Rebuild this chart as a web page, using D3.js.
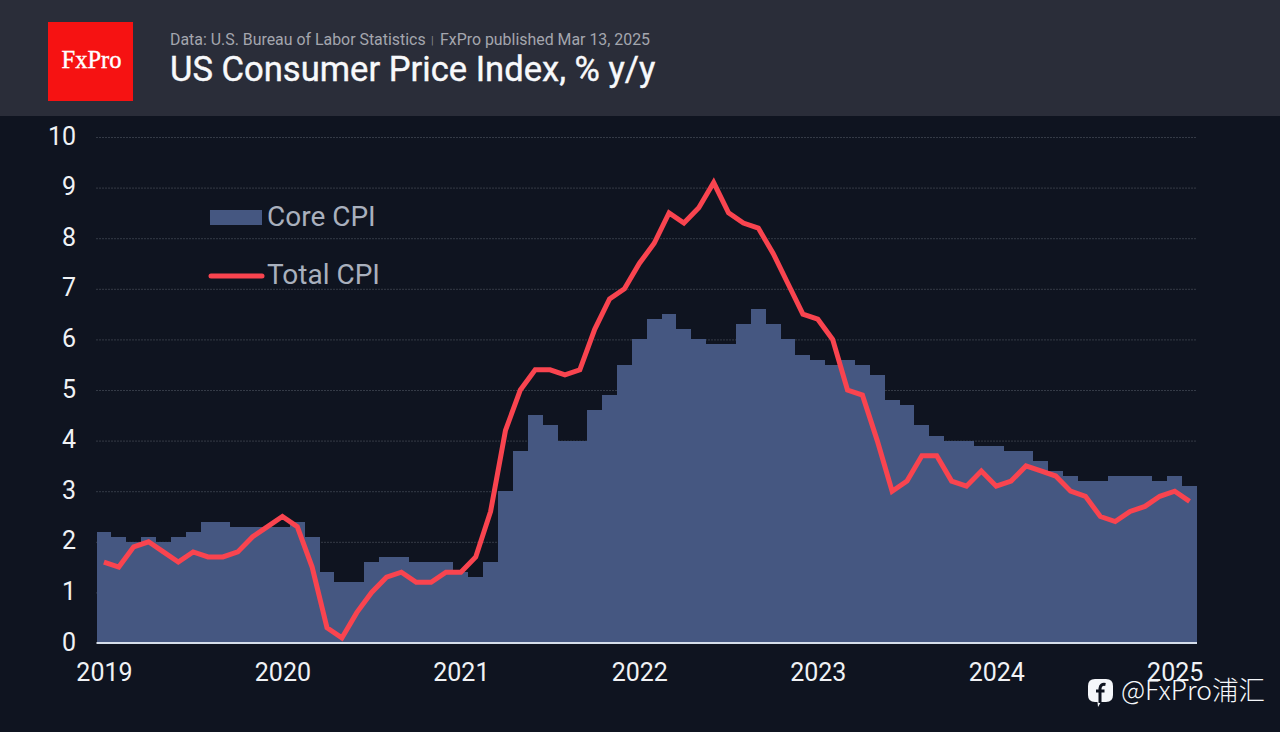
<!DOCTYPE html>
<html>
<head>
<meta charset="utf-8">
<script src="https://cdn.jsdelivr.net/npm/d3@7"></script>
<style>
  html, body { margin: 0; padding: 0; background: #0f1420; }
  svg { display: block; font-family: Roboto, sans-serif; }
</style>
</head>
<body>
<script>
// valeurs, de janvier 2019 a fevrier 2025
const years = [2019, 2020, 2021, 2022, 2023, 2024, 2025]
const yTicks = [0, 1, 2, 3, 4, 5, 6, 7, 8, 9, 10]
const coreCpi = [
  2.2, 2.1, 2.0, 2.1, 2.0, 2.1, 2.2, 2.4, 2.4, 2.3, 2.3, 2.3,
  2.3, 2.4, 2.1, 1.4, 1.2, 1.2, 1.6, 1.7, 1.7, 1.6, 1.6, 1.6,
  1.4, 1.3, 1.6, 3.0, 3.8, 4.5, 4.3, 4.0, 4.0, 4.6, 4.9, 5.5,
  6.0, 6.4, 6.5, 6.2, 6.0, 5.9, 5.9, 6.3, 6.6, 6.3, 6.0, 5.7,
  5.6, 5.5, 5.6, 5.5, 5.3, 4.8, 4.7, 4.3, 4.1, 4.0, 4.0, 3.9,
  3.9, 3.8, 3.8, 3.6, 3.4, 3.3, 3.2, 3.2, 3.3, 3.3, 3.3, 3.2,
  3.3, 3.1
]
const totalCpi = [
  1.6, 1.5, 1.9, 2.0, 1.8, 1.6, 1.8, 1.7, 1.7, 1.8, 2.1, 2.3,
  2.5, 2.3, 1.5, 0.3, 0.1, 0.6, 1.0, 1.3, 1.4, 1.2, 1.2, 1.4,
  1.4, 1.7, 2.6, 4.2, 5.0, 5.4, 5.4, 5.3, 5.4, 6.2, 6.8, 7.0,
  7.5, 7.9, 8.5, 8.3, 8.6, 9.1, 8.5, 8.3, 8.2, 7.7, 7.1, 6.5,
  6.4, 6.0, 5.0, 4.9, 4.0, 3.0, 3.2, 3.7, 3.7, 3.2, 3.1, 3.4,
  3.1, 3.2, 3.5, 3.4, 3.3, 3.0, 2.9, 2.5, 2.4, 2.6, 2.7, 2.9,
  3.0, 2.8
]

const WIDTH = 1280
const HEIGHT = 732
const months = d3.range(coreCpi.length)

const svg = d3.select('body').append('svg')
  .attr('width', WIDTH)
  .attr('height', HEIGHT)

svg.append('rect').attr('width', WIDTH).attr('height', HEIGHT).attr('fill', '#0f1420')

/*
* En-tete
*/
svg.append('rect').attr('width', WIDTH).attr('height', 116).attr('fill', '#2a2d39')
svg.append('rect').attr('x', 48).attr('y', 22).attr('width', 85).attr('height', 79).attr('fill', '#f61212')
svg.append('text').attr('x', 91.5).attr('y', 68).attr('text-anchor', 'middle')
  .attr('font-family', '"Liberation Serif", serif').attr('font-size', 24.5)
  .attr('fill', '#fff').attr('stroke', '#fff').attr('stroke-width', 0.4).text('FxPro')

svg.append('text').attr('x', 170).attr('y', 44.5).attr('font-size', 15.9).attr('fill', '#a4a6ae')
  .text('Data: U.S. Bureau of Labor Statistics')
svg.append('text').attr('x', 431).attr('y', 44).attr('font-size', 11).attr('fill', '#85878f').text('|')
svg.append('text').attr('x', 440).attr('y', 44.5).attr('font-size', 15.9).attr('fill', '#a4a6ae')
  .text('FxPro published Mar 13, 2025')
svg.append('text').attr('x', 170).attr('y', 81).attr('font-size', 34.6).attr('font-weight', 400)
  .attr('stroke', '#f8f9fb').attr('stroke-width', 0.4)
  .attr('fill', '#f8f9fb').text('US Consumer Price Index, % y/y')

/*
* Echelles
*/
const x = d3.scaleBand().domain(months).range([96.5, 1197])
const y = d3.scaleLinear().domain([0, 10]).range([643, 137])

/*
* Axes
*/
const axisY = d3.axisLeft(y).tickValues(yTicks).tickSize(0).tickPadding(20.5)
const gridY = d3.axisLeft(y).tickValues(yTicks.slice(1)).tickSize(-(1197 - 96.5)).tickFormat('')

const grid = svg.append('g').attr('transform', 'translate(96.5,0)').call(gridY)
grid.select('.domain').remove()
grid.selectAll('line').attr('stroke', '#5a606c').attr('stroke-dasharray', '1 2')

const bars = svg.append('g')
bars.selectAll('rect')
  .data(months)
  .enter()
  .append('rect')
  .attr('x', d => x(d))
  .attr('y', d => y(coreCpi[d]))
  .attr('width', x.bandwidth())
  .attr('height', d => y(0) - y(coreCpi[d]))
  .attr('fill', '#455781')
  .attr('shape-rendering', 'crispEdges')

const leftAxis = svg.append('g').attr('transform', 'translate(96.5,-1)').call(axisY)
leftAxis.select('.domain').remove()
leftAxis.selectAll('text')
  .attr('font-family', 'Roboto, sans-serif').attr('font-size', 25).attr('fill', '#f0f2f5')

const axisX = d3.axisBottom(x)
  .tickValues(years.map((yr, i) => i * 12))
  .tickFormat(d => years[d / 12])
  .tickSize(0)
  .tickPadding(20)
const bottomAxis = svg.append('g').attr('transform', 'translate(0.5,643)').call(axisX)
bottomAxis.select('.domain').remove()
bottomAxis.selectAll('text')
  .attr('font-family', 'Roboto, sans-serif').attr('font-size', 25).attr('fill', '#f0f2f5')

svg.append('line')
  .attr('x1', 96.5).attr('x2', 1197).attr('y1', 643).attr('y2', 643)
  .attr('stroke', '#d5deea').attr('stroke-width', 2)

/*
* Courbe CPI total
*/
const line = d3.line()
  .x(d => x(d) + x.bandwidth() / 2)
  .y(d => y(totalCpi[d]))

svg.append('path')
  .datum(months)
  .attr('d', line)
  .attr('fill', 'none')
  .attr('stroke', '#f9444f')
  .attr('stroke-width', 5)
  .attr('stroke-linejoin', 'miter')

/*
* Legende
*/
svg.append('rect').attr('x', 210).attr('y', 210).attr('width', 52).attr('height', 15).attr('fill', '#455781')
svg.append('line').attr('x1', 211).attr('x2', 262).attr('y1', 276).attr('y2', 276)
  .attr('stroke', '#f9444f').attr('stroke-width', 5).attr('stroke-linecap', 'round')
svg.append('text').attr('x', 267).attr('y', 226).attr('font-size', 28).attr('fill', '#a9b0bd').text('Core CPI')
svg.append('text').attr('x', 267).attr('y', 284).attr('font-size', 28).attr('fill', '#a9b0bd').text('Total CPI')

/*
* Filigrane
*/
const mark = svg.append('g').attr('transform', 'translate(1088,679)')
mark.append('path')
  .attr('d', 'M7 0H18Q25 0 25 7V16Q25 23 18 23H13L10 28L9.5 23H7Q0 23 0 16V7Q0 0 7 0Z')
  .attr('fill', '#f5f7fa')
mark.append('path')
  .attr('d', 'M17.5 5.5Q12.5 4.5 12 9.5V24M8 12H16.5')
  .attr('fill', 'none').attr('stroke', '#0f1420').attr('stroke-width', 3)
svg.append('text').attr('x', 1121).attr('y', 700)
  .attr('font-family', '"Noto Sans CJK SC", sans-serif').attr('font-size', 26.5).attr('font-weight', 300)
  .attr('fill', '#f5f7fa').text('@FxPro浦汇')
</script>
</body>
</html>
